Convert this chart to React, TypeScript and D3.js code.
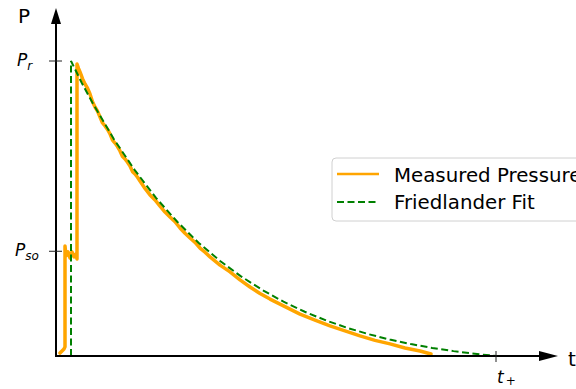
import React from 'react';
import * as d3 from 'd3';

// time in ms (t+ = 4.4), pressure normalised so that Pr = 1
const measuredT = [0.04, 0.06, 0.08, 0.09, 0.09, 0.1, 0.12, 0.14, 0.16, 0.18, 0.2, 0.21, 0.21, 0.225, 0.24, 0.265, 0.29, 0.315, 0.34, 0.365, 0.39, 0.415, 0.44, 0.465, 0.49, 0.515, 0.54, 0.565, 0.59, 0.615, 0.64, 0.665, 0.69, 0.715, 0.74, 0.765, 0.79, 0.815, 0.84, 0.89, 0.94, 0.99, 1.04, 1.09, 1.14, 1.19, 1.24, 1.29, 1.34, 1.39, 1.44, 1.49, 1.54, 1.64, 1.74, 1.84, 1.94, 2.04, 2.14, 2.24, 2.34, 2.44, 2.59, 2.74, 2.89, 3.04, 3.19, 3.34, 3.49, 3.64, 3.75];
const measuredP = [0.01, 0.017, 0.024, 0.031, 0.373, 0.339, 0.353, 0.332, 0.353, 0.336, 0.346, 0.329, 0.99, 0.975, 0.963, 0.94, 0.922, 0.908, 0.888, 0.862, 0.844, 0.83, 0.81, 0.79, 0.78, 0.768, 0.753, 0.732, 0.722, 0.71, 0.695, 0.676, 0.668, 0.657, 0.644, 0.625, 0.617, 0.606, 0.593, 0.568, 0.546, 0.529, 0.508, 0.488, 0.471, 0.455, 0.434, 0.416, 0.4, 0.385, 0.366, 0.352, 0.336, 0.308, 0.285, 0.258, 0.234, 0.212, 0.193, 0.176, 0.159, 0.142, 0.122, 0.102, 0.085, 0.068, 0.053, 0.041, 0.027, 0.017, 0.007];

const fitT = [0.15, 0.15, 0.256, 0.3625, 0.575, 0.7875, 1.0, 1.2125, 1.425, 1.6375, 1.85, 2.0625, 2.275, 2.4875, 2.7, 2.9125, 3.125, 3.3375, 3.55, 3.7625, 3.975, 4.1875, 4.4];
const fitP = [0, 1.0, 0.927, 0.86, 0.737, 0.63, 0.536, 0.455, 0.384, 0.323, 0.27, 0.224, 0.184, 0.15, 0.1205, 0.0954, 0.074, 0.0558, 0.0404, 0.0274, 0.0165, 0.0075, 0];

const P_R = 1.0;
const P_SO = 0.355;
const T_PLUS = 4.4;

const W = 576;
const H = 389;
const FONT = '"DejaVu Sans", sans-serif';

export default function App() {
  const x = d3.scaleLinear().domain([0, 5]).range([56, 556]);
  const y = d3.scaleLinear().domain([0, 1]).range([356, 61]);

  const line = d3.line<[number, number]>()
    .x((d) => x(d[0]))
    .y((d) => y(d[1]));

  const measured = measuredT.map((t, i) => [t, measuredP[i]] as [number, number]);
  const fit = fitT.map((t, i) => [t, fitP[i]] as [number, number]);

  const x0 = x(0);
  const y0 = y(0);
  const yTop = y(1.18);
  const xEnd = x(5.02);

  return (
    <svg width={W} height={H} style={{ position: 'absolute', left: 0, top: 0, background: '#fff' }}
      fontFamily={FONT}>
      {/* curves */}
      <path d={line(measured) || ''} fill="none" stroke="#ffa500" strokeWidth={3.5}
        strokeLinejoin="round" strokeLinecap="round" />
      <path d={line(fit) || ''} fill="none" stroke="#008000" strokeWidth={2}
        strokeDasharray="7 3.5" />

      {/* axes with arrows */}
      <line x1={x0} y1={y0} x2={x0} y2={yTop + 12} stroke="#000" strokeWidth={2} />
      <path d={`M${x0},${yTop} L${x0 - 5},${yTop + 16} L${x0 + 5},${yTop + 16} Z`} fill="#000" />
      <line x1={x0 - 1} y1={y0} x2={xEnd - 14} y2={y0} stroke="#000" strokeWidth={2} />
      <path d={`M${xEnd},${y0} L${xEnd - 19},${y0 - 5} L${xEnd - 19},${y0 + 5} Z`} fill="#000" />

      <text x={18} y={23} fontSize={20}>P</text>
      <text x={568} y={366} fontSize={20}>t</text>

      {/* y ticks */}
      {[P_R, P_SO].map((v) => (
        <line key={v} x1={x0 - 7} x2={x0 + 6} y1={y(v)} y2={y(v)} stroke="#222" strokeWidth={1} />
      ))}
      <text x={17} y={y(P_R) + 5} fontSize={17}>
        <tspan fontStyle="italic">P</tspan>
        <tspan fontStyle="italic" fontSize={12} dy={4}>r</tspan>
      </text>
      <text x={15} y={y(P_SO) + 5} fontSize={17}>
        <tspan fontStyle="italic">P</tspan>
        <tspan fontStyle="italic" fontSize={12} dy={4}>so</tspan>
      </text>

      {/* x tick */}
      <line x1={x(T_PLUS)} x2={x(T_PLUS)} y1={y0 - 5} y2={y0 + 6} stroke="#222" strokeWidth={1} />
      <text x={x(T_PLUS) + 1} y={383} fontSize={17}>
        <tspan fontStyle="italic">t</tspan>
        <tspan fontSize={12} dy={2} dx={2}>+</tspan>
      </text>

      {/* legend */}
      <rect x={332} y={158} width={260} height={63} rx={4} fill="#fff" fillOpacity={0.8}
        stroke="#d0d0d0" strokeWidth={1} />
      <line x1={337} x2={379} y1={174} y2={174} stroke="#ffa500" strokeWidth={2.5} />
      <text x={394} y={181.5} fontSize={19.8}>Measured Pressure</text>
      <line x1={337} x2={379} y1={202} y2={202} stroke="#008000" strokeWidth={2} strokeDasharray="7 3.5" />
      <text x={394} y={209} fontSize={19.8}>Friedlander Fit</text>
    </svg>
  );
}
